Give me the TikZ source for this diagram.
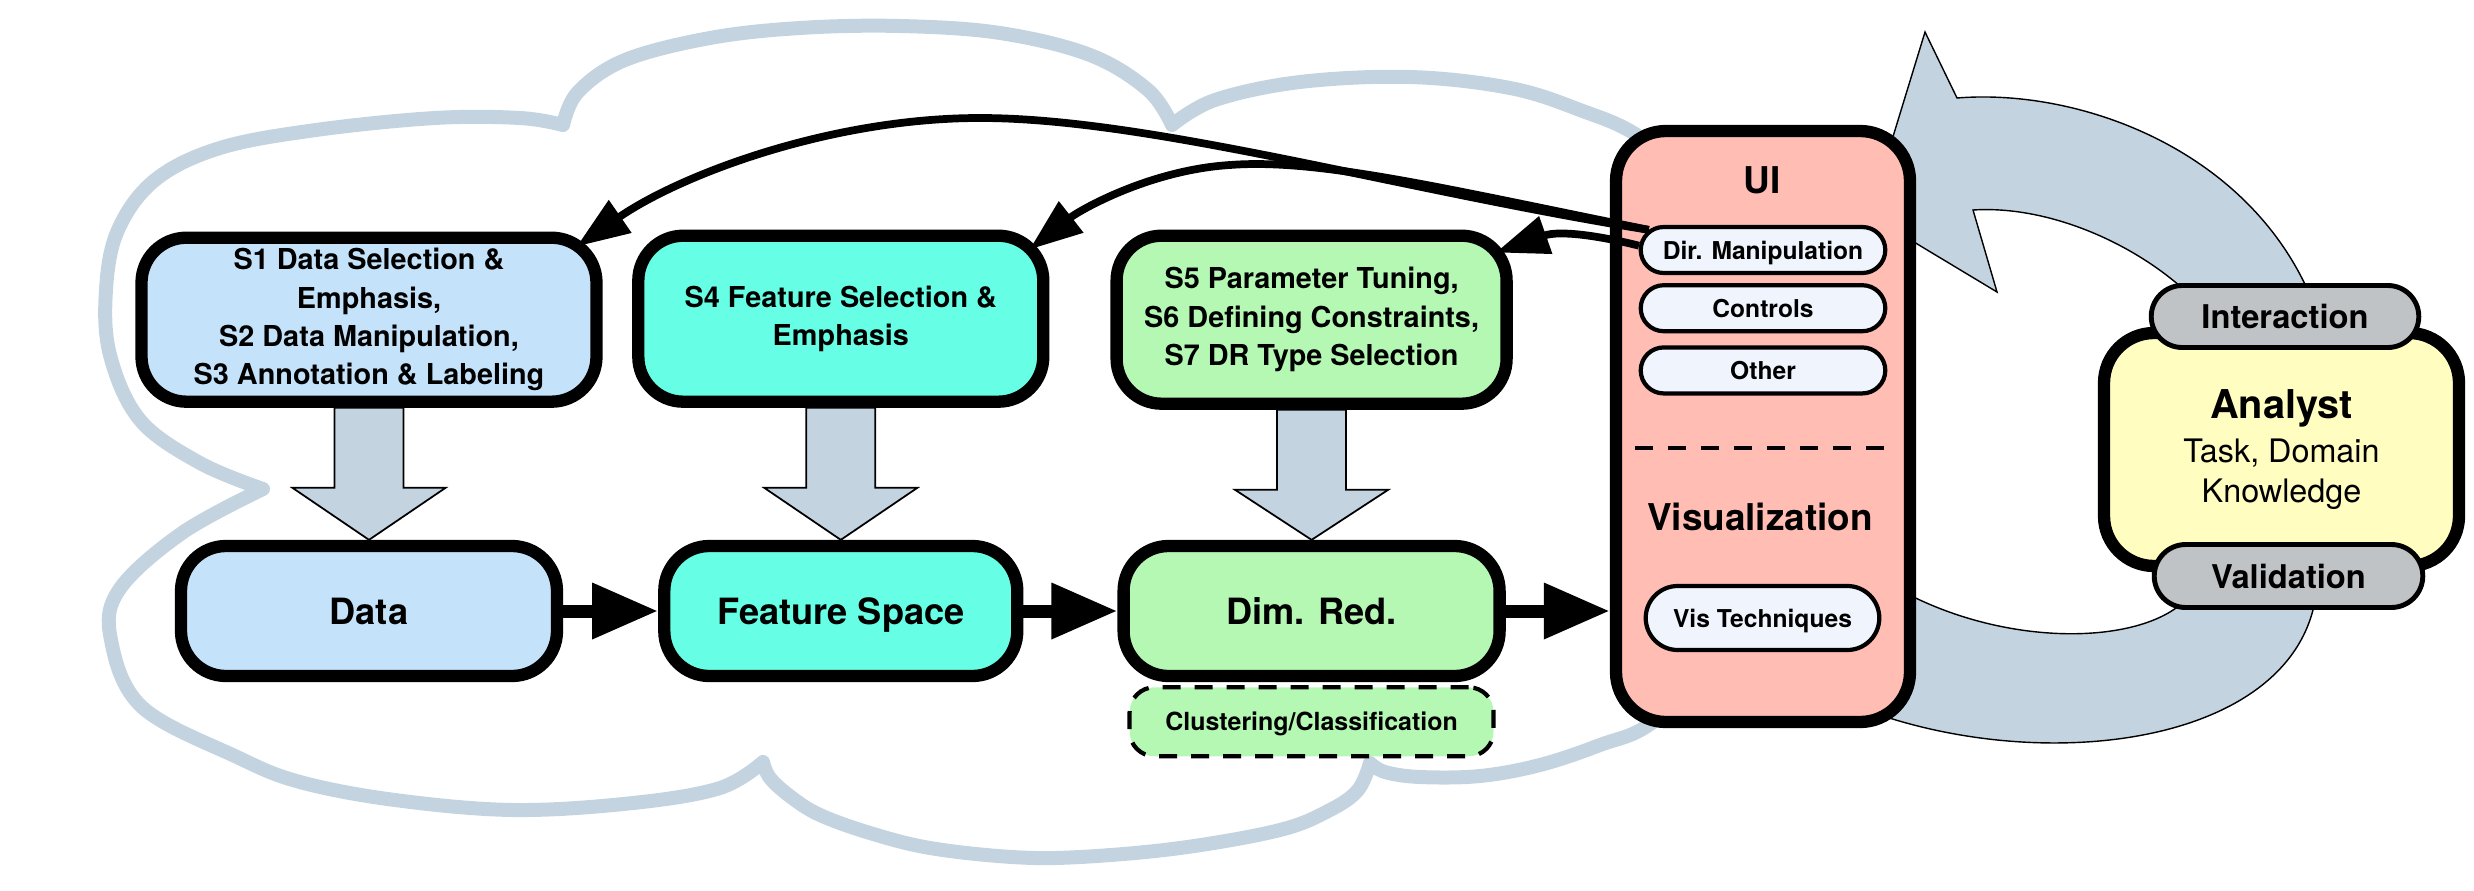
\documentclass[tikz,border=0pt]{standalone}
\usepackage{fontspec}
\setmainfont{TeX Gyre Heros}
\usepackage{tikz}
\usetikzlibrary{calc, positioning, arrows.meta, shapes.misc}

\definecolor{dataBlue}{HTML}{C4E3FA}
\definecolor{featCyan}{HTML}{66FFE5}
\definecolor{drGreen}{HTML}{B4F8B4}
\definecolor{uiPink}{HTML}{FFBDB3}
\definecolor{pillWhite}{HTML}{F0F4FC}
\definecolor{analystYellow}{HTML}{FFFEC0}
\definecolor{tagGray}{HTML}{BFC3C5}
\definecolor{cloudBlue}{HTML}{C3D4E0}

\begin{document}
\begin{tikzpicture}[
  x=0.1mm, y=-0.1mm,
  stage/.style={draw, line width=3.5pt, rounded corners=4.5mm, align=center, inner sep=1mm, font=\bfseries\fontsize{8.2}{10.9}\selectfont},
  flowbox/.style={draw, line width=3.5pt, rounded corners=4.5mm, minimum height=13mm, text height=2.6mm, text depth=0pt, font=\bfseries\fontsize{10.3}{12}\selectfont},
  pill/.style={draw, rounded rectangle, line width=1.2pt, fill=pillWhite, minimum width=26.8mm, minimum height=4.6mm, text height=1.8mm, text depth=0pt, font=\bfseries\fontsize{7}{8}\selectfont},
  tagpill/.style={draw, rounded rectangle, line width=1.4pt, fill=tagGray, minimum width=29.1mm, minimum height=6.2mm, text height=2.4mm, text depth=0pt, font=\bfseries\fontsize{9.3}{11}\selectfont},
  headtext/.style={font=\bfseries\fontsize{10.5}{12}\selectfont},
  blockarr/.style={fill=cloudBlue, draw=black, line width=0.5pt},
  band/.style={fill=cloudBlue, draw=black, line width=0.4pt},
  cloudline/.style={draw=cloudBlue, line width=1.4mm, line cap=round, line join=round},
  flowarr/.style={line width=3.7pt, -{Triangle[length=6.6mm, width=5.3mm]}},
  linkarr/.style={line width=2.2pt, -{Triangle[length=5.3mm, width=3.8mm]}},
  sepline/.style={line width=1.4pt, dash pattern=on 1.8mm off 1.5mm}
]
\useasboundingbox (0,0) rectangle (2474,891);

\draw[cloudline] plot[smooth, tension=0.6] coordinates {(563,125) (578,92) (625,60) (710,38) (800,28) (900,26) (1000,33) (1090,55) (1148,90) (1172,125)}
  plot[smooth, tension=0.6] coordinates {(1172,125) (1215,100) (1300,82) (1410,77) (1510,88) (1580,110) (1640,137) (1720,200) (1780,330) (1780,500) (1730,650) (1653,722) (1600,745) (1540,765) (1480,776) (1420,777) (1385,772) (1370,763)}
  plot[smooth, tension=0.6] coordinates {(1370,763) (1358,790) (1330,810) (1280,830) (1180,848) (1080,857) (1012,857) (930,848) (870,833) (820,815) (791,797) (770,778) (763,762)}
  plot[smooth, tension=0.6] coordinates {(763,762) (720,788) (633,803) (514,810) (395,800) (300,782) (237,757) (142,707) (111,640) (119,590) (182,533) (263,489)}
  plot[smooth, tension=0.6] coordinates {(263,489) (200,463) (140,420) (110,355) (106,290) (118,230) (155,180) (220,148) (316,130) (435,118) (520,118) (563,125)};

\filldraw[band] (1925,32) -- (1957,98) .. controls (2080,88) and (2250,150) .. (2312,300) -- (2195,300) .. controls (2140,245) and (2050,205) .. (1973,210) -- (1997,292) -- (1869,215) -- cycle;
\filldraw[band] (2190,595) .. controls (2150,645) and (2010,650) .. (1900,590) -- (1880,715) .. controls (2060,775) and (2295,740) .. (2316,595) -- cycle;

\node (data) [flowbox, fill=dataBlue, minimum width=37.6mm] at (369,611) {Data};
\node (fs) [flowbox, fill=featCyan, minimum width=35.3mm, right=9.5mm of data] {Feature Space};
\node (dimred) [flowbox, fill=drGreen, minimum width=37.6mm, right=9.4mm of fs] {Dim. Red.};
\node (clust) [draw, fill=drGreen, line width=1.2pt, dash pattern=on 1.8mm off 1.4mm, rounded corners=2.5mm, minimum width=36.4mm, minimum height=6.9mm, text height=1.8mm, text depth=0pt, font=\bfseries\fontsize{7.1}{8}\selectfont, below=0.3mm of dimred] {Clustering/Classification};

\node (s1) [stage, fill=dataBlue, minimum width=45.5mm, minimum height=16.4mm, above=13.2mm of data] {S1 Data Selection \&\\Emphasis,\\S2 Data Manipulation,\\S3 Annotation \& Labeling};
\node (s4) [stage, fill=featCyan, minimum width=40.5mm, minimum height=16.6mm, above=13.2mm of fs] {S4 Feature Selection \&\\Emphasis};
\node (s5) [stage, fill=drGreen, minimum width=39mm, minimum height=16.8mm, above=13mm of dimred] {S5 Parameter Tuning,\\S6 Defining Constraints,\\S7 DR Type Selection};

\node (ui) [draw, line width=3.5pt, rounded corners=5mm, fill=uiPink, minimum width=29.4mm, minimum height=59.1mm] at (1763,426.5) {};
\node (uititle) [headtext] at (1762,180) {UI};
\node (vistitle) [headtext] at (1760,517) {Visualization};
\node (dirmanip) [pill] at (1763,250) {Dir. Manipulation};
\node (controls) [pill, below=0.8mm of dirmanip] {Controls};
\node (other) [pill, below=1.2mm of controls] {Other};
\node (vistech) [pill, minimum width=25.7mm, minimum height=6.4mm] at (1762.5,618) {Vis Techniques};
\draw[sepline] ($(ui.center)+(-128,21.5)$) -- ($(ui.center)+(122,21.5)$);

\node (analyst) [draw, line width=3.5pt, rounded corners=5mm, fill=analystYellow, minimum width=35.5mm, minimum height=23.3mm, align=center, font=\fontsize{9.2}{11.6}\selectfont] at (2281.5,449.5) {{\bfseries\fontsize{11.3}{12.5}\selectfont Analyst}\\[0.9pt]Task, Domain\\Knowledge};
\node (interaction) [tagpill] at (2285,316.5) {Interaction};
\node (validation) [tagpill, minimum width=29.2mm, minimum height=6.3mm] at (2288.5,576) {Validation};

\foreach \src/\dst in {s1/data, s4/fs, s5/dimred}
  \filldraw[blockarr] ($(\src.south)+(-34.5,0)$) -- ++(0,80) -- ++(-42,0) -- (\src.south |- \dst.north) -- ($(\src.south)+(76.5,80)$) -- ++(-42,0) -- ($(\src.south)+(34.5,0)$) -- cycle;

\draw[flowarr] (data) -- (fs);
\draw[flowarr] (fs) -- (dimred);
\draw[flowarr] (dimred) -- (dimred -| ui.west);

\draw[linkarr] (dirmanip.170) .. controls (1400,190) and (1150,118) .. (980,118) .. controls (830,118) and (680,175) .. ($(s1.north east)+(-26,15)$);
\draw[linkarr] (dirmanip.170) .. controls (1450,190) and (1320,158) .. (1230,165) .. controls (1150,170) and (1080,210) .. ($(s4.north east)+(-20,20)$);
\draw[linkarr] (dirmanip.178) .. controls (1600,236) and (1560,230) .. ($(s5.north east)+(-17,23)$);
\end{tikzpicture}
\end{document}
